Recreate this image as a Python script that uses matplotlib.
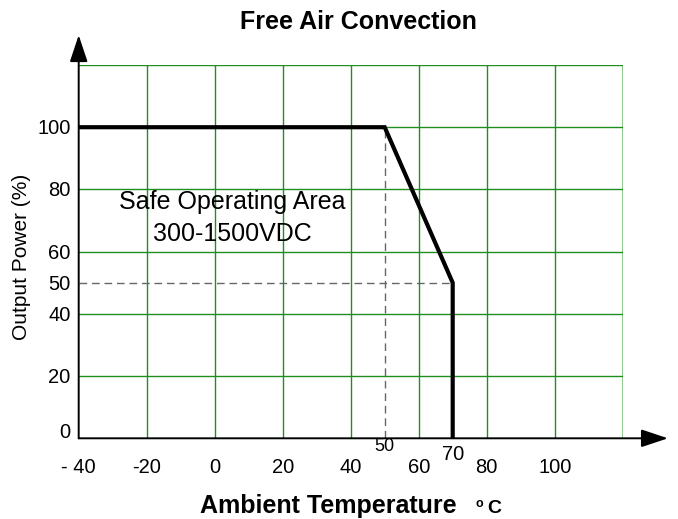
import matplotlib
matplotlib.use("Agg")
import matplotlib.pyplot as plt
from matplotlib.transforms import offset_copy

plt.rcParams['font.family'] = ['Liberation Sans', 'DejaVu Sans']

# ---- data ----
curve_temp = [-40, 50, 70, 70]
curve_power = [100, 100, 50, 0]
x_ticks = [-40, -20, 0, 20, 40, 60, 80, 100]
x_tick_labels = ["- 40", "-20", "0", "20", "40", "60", "80", "100"]
y_ticks = [0, 20, 40, 50, 60, 80, 100]
y_tick_labels = ["0", "20", "40", "50", "60", "80", "100"]
x_grid = [-20, 0, 20, 40, 60, 80, 100]
y_grid = [20, 40, 60, 80, 100, 120]
derate_start = 50
derate_end = 70
derate_power = 50
special_labels = ["50", "70"]
title = "Free Air Convection"
xlabel = "Ambient Temperature"
ylabel = "Output Power (%)"
area_text = ["Safe Operating Area", "300-1500VDC"]

W, H = 678, 519
fig = plt.figure(figsize=(W / 100, H / 100), dpi=100)
ax = fig.add_axes([78.7 / W, (H - 438.3) / H, 544 / W, 373.3 / H])
ax.set_xlim(-40, 120)
ax.set_ylim(0, 120)
for s in ax.spines.values():
    s.set_visible(False)

green = '#1f8f1f'
for xv in x_grid:
    ax.axvline(xv, color=green, lw=1.0, zorder=1)
ax.axvline(120, color='#7cc47c', lw=1.2, zorder=1)
for yv in y_grid:
    ax.axhline(yv, color=green, lw=1.0, zorder=1)

# dashed reference lines
ax.plot([-40, derate_end], [derate_power, derate_power], color='#666666',
        lw=1.0, dashes=(5.5, 3.5), zorder=2)
ax.plot([derate_start, derate_start], [0, 100], color='#666666',
        lw=1.0, dashes=(5.5, 3.5), zorder=2)

# derating curve
ax.plot(curve_temp, curve_power, color='black', lw=3.0,
        solid_joinstyle='miter', solid_capstyle='butt', zorder=4)

# axes with arrows
arrow_style = '-|>,head_length=1.65,head_width=0.55'
ax.annotate('', xy=(133.3, 0), xytext=(-40, 0), annotation_clip=False,
            arrowprops=dict(arrowstyle=arrow_style, mutation_scale=10,
                            color='black', lw=1.4, shrinkA=0, shrinkB=0),
            zorder=5)
ax.annotate('', xy=(-40, 129.6), xytext=(-40, 0), annotation_clip=False,
            arrowprops=dict(arrowstyle=arrow_style, mutation_scale=10,
                            color='black', lw=1.4, shrinkA=0, shrinkB=0),
            zorder=5)

ax.set_xticks(x_ticks)
ax.set_xticklabels(x_tick_labels, fontsize=14.5)
ax.tick_params(axis='x', length=0, pad=14)
ax.set_yticks([])
ax.grid(False)

# y tick labels (the "0" sits slightly raised in the original)
for val, lab in zip(y_ticks, y_tick_labels):
    dy = 5.5 if val == 0 else -1.5
    tr = offset_copy(ax.transData, fig=fig, x=-8, y=dy, units='dots')
    ax.text(-40, val, lab, transform=tr, ha='right', va='center',
            fontsize=14.5, clip_on=False)

# special raised labels under the derating points
ax.text(derate_start, -2.6, special_labels[0], ha='center', va='center',
        fontsize=13)
ax.text(derate_end, -5.3, special_labels[1], ha='center', va='center',
        fontsize=14.5)

# area text
ax.text(5.2, 75.8, area_text[0], ha='center', va='center', fontsize=18)
ax.text(5.1, 65.8, area_text[1], ha='center', va='center', fontsize=18)

# title and labels
fig.text(358 / W, 1 - 22 / H, title, ha='center', va='center',
         fontsize=18, fontweight='bold')
fig.text(200 / W, 1 - 513 / H, xlabel, ha='left', va='baseline',
         fontsize=18, fontweight='bold')
fig.text(476 / W, 1 - 507 / H, 'o', ha='left', va='baseline',
         fontsize=9, fontweight='bold')
fig.text(487 / W, 1 - 513 / H, 'C', ha='left', va='baseline',
         fontsize=14, fontweight='bold')
fig.text(22 / W, 1 - 256.5 / H, ylabel, ha='center', va='center',
         rotation=90, fontsize=15)

fig.savefig('out.png', dpi=100)
